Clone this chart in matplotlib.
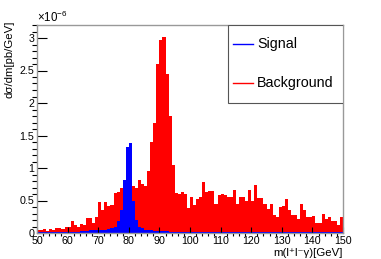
import matplotlib
matplotlib.use('Agg')
import matplotlib.pyplot as plt
import numpy as np
from matplotlib.patches import Rectangle
from matplotlib.lines import Line2D
from matplotlib.ticker import MultipleLocator, FuncFormatter

plt.rcParams['font.family'] = ['Liberation Sans', 'DejaVu Sans']
plt.rcParams['mathtext.fontset'] = 'custom'
plt.rcParams['mathtext.rm'] = 'Liberation Sans'
plt.rcParams['mathtext.it'] = 'Liberation Sans:italic'

# bin edges in GeV, 1 GeV bins
edges = np.arange(50, 151, 1)

# dsigma/dm in units of 1e-6 pb/GeV
background = [
    0.04, 0.04, 0.06, 0.03, 0.06, 0.05, 0.07, 0.07, 0.06, 0.09,
    0.10, 0.18, 0.12, 0.10, 0.14, 0.12, 0.23, 0.23, 0.16, 0.25,
    0.48, 0.36, 0.48, 0.42, 0.43, 0.61, 0.63, 0.69, 0.76, 0.72,
    0.72, 0.73, 0.70, 0.81, 0.76, 0.72, 0.95, 1.40, 1.70, 2.60,
    2.97, 3.02, 2.45, 1.80, 1.05, 0.62, 0.60, 0.63, 0.60, 0.38,
    0.55, 0.43, 0.53, 0.56, 0.78, 0.63, 0.64, 0.64, 0.44, 0.58,
    0.60, 0.59, 0.56, 0.55, 0.66, 0.44, 0.55, 0.55, 0.50, 0.66,
    0.50, 0.74, 0.54, 0.54, 0.45, 0.37, 0.44, 0.27, 0.25, 0.40,
    0.41, 0.52, 0.35, 0.27, 0.27, 0.22, 0.44, 0.36, 0.25, 0.25,
    0.26, 0.15, 0.16, 0.30, 0.22, 0.25, 0.18, 0.18, 0.13, 0.24,
]
signal = [
    0.01, 0.01, 0.01, 0.01, 0.01, 0.02, 0.01, 0.02, 0.02, 0.02,
    0.02, 0.02, 0.02, 0.02, 0.03, 0.03, 0.03, 0.04, 0.04, 0.04,
    0.05, 0.05, 0.05, 0.06, 0.07, 0.10, 0.18, 0.35, 0.82, 1.32,
    1.39, 0.50, 0.20, 0.10, 0.07, 0.05, 0.04, 0.04, 0.03, 0.03,
    0.03, 0.03, 0.03, 0.02, 0.02, 0.02, 0.02, 0.02, 0.02, 0.02,
    0.02, 0.02, 0.02, 0.02, 0.02, 0.02, 0.02, 0.02, 0.02, 0.02,
    0.02, 0.02, 0.02, 0.02, 0.02, 0.02, 0.02, 0.02, 0.02, 0.02,
    0.02, 0.02, 0.02, 0.02, 0.02, 0.02, 0.02, 0.02, 0.02, 0.02,
    0.02, 0.02, 0.02, 0.02, 0.02, 0.02, 0.02, 0.02, 0.02, 0.02,
    0.02, 0.02, 0.02, 0.02, 0.02, 0.02, 0.02, 0.02, 0.02, 0.02,
]
labels = ['Signal', 'Background']

W, H = 381, 259
fig = plt.figure(figsize=(W / 100, H / 100), dpi=100)
ax = fig.add_axes([37 / W, 1 - 233 / H, 306 / W, 208 / H])

ax.stairs(background, edges, fill=True, color='red', linewidth=0)
ax.stairs(signal, edges, fill=True, color='blue', linewidth=0)

ax.set_xlim(50, 150)
ax.set_ylim(0, 3.2)

ax.xaxis.set_major_locator(MultipleLocator(10))
ax.xaxis.set_minor_locator(MultipleLocator(2))
ax.yaxis.set_major_locator(MultipleLocator(0.5))
ax.yaxis.set_minor_locator(MultipleLocator(0.1))
ax.yaxis.set_major_formatter(FuncFormatter(lambda v, p: '%g' % v))

ax.tick_params(direction='in', top=False, right=False, labelsize=7.7, color='black')
ax.tick_params(axis='y', which='major', length=7, width=0.8, pad=2)
ax.tick_params(axis='y', which='minor', length=3.6, width=0.8)
ax.tick_params(axis='x', which='major', length=4.6, width=0.8, pad=2)
ax.tick_params(axis='x', which='minor', length=2.4, width=0.8)

for s in ax.spines.values():
    s.set_color('#999999')
    s.set_linewidth(1)

ax.text(0, 1.0, '×10$^{-6}$', transform=ax.transAxes, ha='left', va='bottom', fontsize=8.3)

fig.text(10 / W, 1 - 21 / H, 'dσ/dm[pb/GeV]', rotation=90, ha='center', va='top', fontsize=8.2)
fig.text(343 / W, 1 - 256 / H, 'm(l⁺l⁻γ)[GeV]', ha='right', va='baseline', fontsize=8.2)

# legend box in ROOT style
lx0, lx1 = (228 - 37) / 306, 1.0
ly0, ly1 = (233 - 103) / 208, 1.0
ax.add_patch(Rectangle((lx0, ly0), lx1 - lx0, ly1 - ly0, transform=ax.transAxes,
                       facecolor='white', edgecolor='#555555', linewidth=0.8, zorder=5))
for i, (lab, col) in enumerate(zip(labels, ['blue', 'red'])):
    yy = (233 - [44, 83][i]) / 208
    ax.add_line(Line2D([(233 - 37) / 306, (253 - 37) / 306], [yy, yy], color=col,
                       linewidth=1, transform=ax.transAxes, zorder=6))
    ax.text((257 - 37) / 306, yy, lab, transform=ax.transAxes, ha='left', va='center',
            fontsize=10.3, zorder=6)

fig.savefig('out.png', dpi=100)
